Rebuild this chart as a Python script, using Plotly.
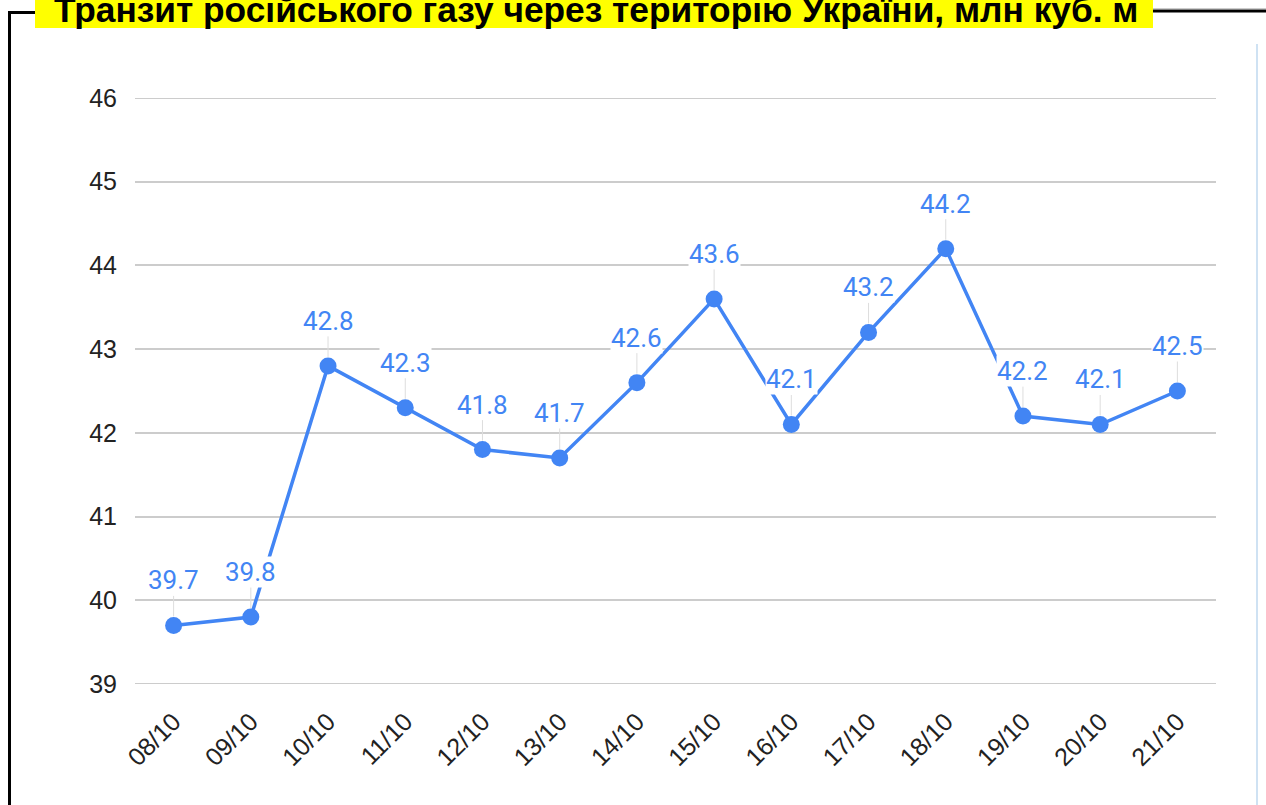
import plotly.graph_objects as go

dates = ["08/10", "09/10", "10/10", "11/10", "12/10", "13/10", "14/10",
         "15/10", "16/10", "17/10", "18/10", "19/10", "20/10", "21/10"]
values = [39.7, 39.8, 42.8, 42.3, 41.8, 41.7, 42.6, 43.6, 42.1, 43.2, 44.2, 42.2, 42.1, 42.5]
y_ticks = [39, 40, 41, 42, 43, 44, 45, 46]
title_text = "Транзит російського газу через територію України, млн куб. м"

W, H = 1266, 805
ML, MR, MT, MB = 135, 50, 98, 121
PW, PH = W - ML - MR, H - MT - MB
BLUE = "#4285F4"
GRID = "#cccccc"


def X(px):
    return (px - ML) / PW


def Y(py):
    return (H - MB - py) / PH


fig = go.Figure()
fig.add_trace(go.Scatter(
    x=list(range(len(dates))), y=values, mode="lines+markers",
    line=dict(color=BLUE, width=3.5),
    marker=dict(color=BLUE, size=17),
    hoverinfo="skip", showlegend=False,
))

annotations = []
for i, v in enumerate(values):
    annotations.append(dict(
        x=i, y=v, xref="x", yref="y", text=f"{v:.1f}",
        showarrow=True, ax=0, ay=-45, arrowhead=0, arrowwidth=1,
        arrowcolor="#dddddd", standoff=9,
        font=dict(family="Roboto, Liberation Sans, sans-serif", size=26, color=BLUE),
        bgcolor="white", borderpad=0,
    ))

annotations.append(dict(
    x=X(595.5), y=Y(10), xref="paper", yref="paper", text=title_text,
    showarrow=False, xanchor="center", yanchor="middle",
    font=dict(family="Liberation Sans, Arial, sans-serif", size=35.3, color="black", weight="bold"),
))

shapes = [
    # edge gridlines (plotly omits the ones lying on the range ends)
    dict(type="line", xref="paper", yref="y", x0=0, x1=1, y0=y_ticks[0], y1=y_ticks[0],
         line=dict(color=GRID, width=2), layer="below"),
    dict(type="line", xref="paper", yref="y", x0=0, x1=1, y0=y_ticks[-1], y1=y_ticks[-1],
         line=dict(color=GRID, width=2), layer="below"),
    # yellow title box
    dict(type="rect", xref="paper", yref="paper", x0=X(35), x1=X(1153), y0=Y(28), y1=Y(-5),
         fillcolor="#ffff00", line=dict(width=0), layer="below"),
    # black frame
    dict(type="line", xref="paper", yref="paper", x0=X(9.5), x1=X(9.5), y0=Y(12.5), y1=Y(810),
         line=dict(color="black", width=3)),
    dict(type="line", xref="paper", yref="paper", x0=X(8), x1=X(35), y0=Y(12.5), y1=Y(12.5),
         line=dict(color="black", width=3)),
    dict(type="line", xref="paper", yref="paper", x0=X(1153), x1=X(1270), y0=Y(11), y1=Y(11),
         line=dict(color="black", width=3)),
    dict(type="line", xref="paper", yref="paper", x0=X(1153), x1=X(1270), y0=Y(8.5), y1=Y(8.5),
         line=dict(color="#cccccc", width=1)),
    # light blue right line
    dict(type="line", xref="paper", yref="paper", x0=X(1257), x1=X(1257), y0=Y(44), y1=Y(810),
         line=dict(color="#cfe2f3", width=2)),
]

fig.update_layout(
    width=W, height=H,
    margin=dict(l=ML, r=MR, t=MT, b=MB, pad=0),
    paper_bgcolor="white", plot_bgcolor="white",
    annotations=annotations, shapes=shapes,
    xaxis=dict(
        range=[-0.5, len(dates) - 0.5], tickmode="array",
        tickvals=list(range(len(dates))), ticktext=dates, tickangle=-45,
        showgrid=False, zeroline=False, showline=False,
        tickfont=dict(family="Liberation Sans, Arial, sans-serif", size=25, color="#222222"),
        ticks="outside", ticklen=12, tickcolor="rgba(0,0,0,0)",
    ),
    yaxis=dict(
        range=[y_ticks[0], y_ticks[-1]], tickmode="array", tickvals=y_ticks,
        showgrid=True, gridcolor=GRID, gridwidth=1.5, zeroline=False, showline=False,
        tickfont=dict(family="Liberation Sans, Arial, sans-serif", size=25, color="#222222"),
        ticks="outside", ticklen=12, tickcolor="rgba(0,0,0,0)",
    ),
)

fig.write_html("out.html", config={"displayModeBar": False},
               post_script="document.body.style.margin='0';document.body.style.overflow='hidden';")
